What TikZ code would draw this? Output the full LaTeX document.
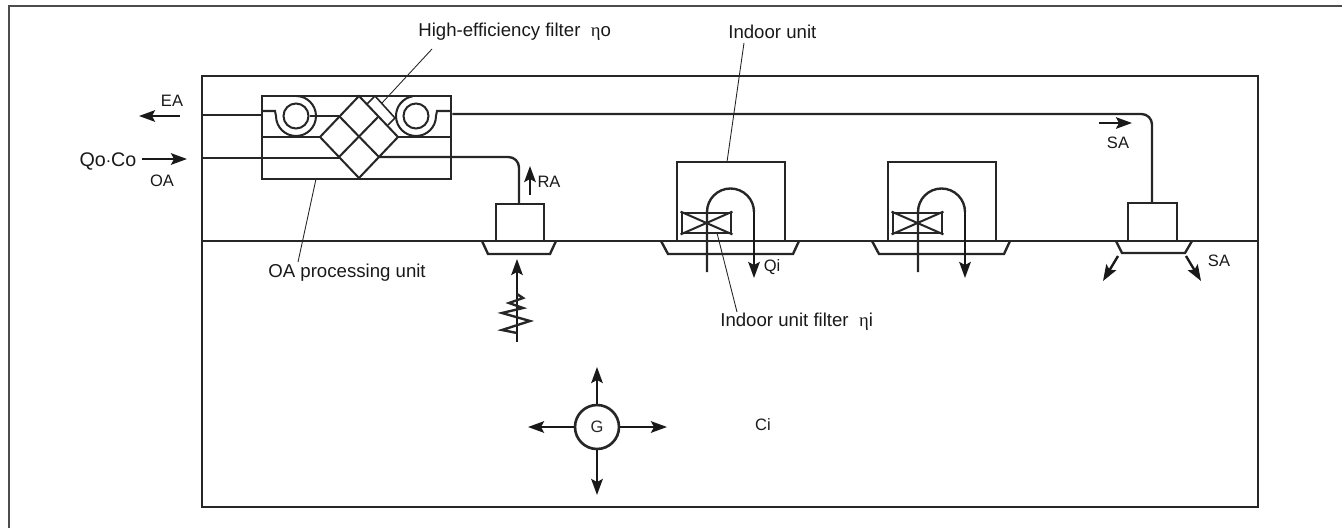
\documentclass[tikz,border=0pt]{standalone}
\usepackage{fontspec}
\setmainfont{Liberation Sans}
\newfontfamily\etafont{Liberation Serif}
\usetikzlibrary{arrows.meta, positioning, calc}

\begin{document}
\begin{tikzpicture}[
    x=0.02cm, y=-0.02cm, >={Stealth[length=3.2mm,width=2.3mm,inset=0.6mm]},
    heavy/.style={line width=1.15pt, black!85},
    duct/.style={line width=1.35pt, black!85},
    leader/.style={line width=0.5pt, black!85},
    flow/.style={line width=1.35pt, black!90, ->},
    lbl/.style={font=\fontsize{10.6}{12}\selectfont, inner sep=0pt, text=black!90},
    tag/.style={font=\fontsize{9.4}{11}\selectfont, inner sep=0pt, text=black!90}
  ]
  \useasboundingbox (0,0) rectangle (1342,528);
  \draw[line width=0.8pt, black!70] (1342,6) -- (9,6) -- (9,528);

  % room and ceiling
  \draw[duct] (202,76) rectangle (1258,507);
  \draw[duct] (202,241) -- (1258,241);

  % OA processing unit
  \node[draw, heavy, line width=1.5pt, minimum width=3.78cm, minimum height=1.66cm, inner sep=0pt]
    (oaunit) at (356.5,137.5) {};
  \draw[duct] (202,115) -- (oaunit.west |- 0,115);
  \draw[duct] (202,158) -- (340,158);
  \draw[heavy] (262,137) -- (320,137);
  \draw[heavy] (451,137) -- (398,137);

  % heat exchanger
  \draw[heavy] (359,96) -- (398,137) -- (359,178) -- (320,137) -- cycle;
  \draw[heavy] (339,116) -- (379,157);
  \draw[heavy] (379,116) -- (339,157);

  % filter strip
  \draw[heavy, line width=0.9pt] (367,104) -- (375,96) -- (395,118) -- (388,125);

  % fans
  \node[draw, circle, heavy, minimum size=0.5cm, inner sep=0pt] (fanl) at (296,116) {};
  \node[draw, circle, heavy, minimum size=0.5cm, inner sep=0pt] (fanr) at (416,116) {};
  \draw[heavy] (262,111) -- (275,111) -- (276,116)
    arc[start angle=180, end angle=-90, radius=20];
  \draw[heavy] (451,111) -- (437,111) -- (436,116)
    arc[start angle=0, end angle=260, radius=20];
  \draw[heavy] (fanl.east) -- (339,116);

  % supply duct
  \draw[duct, rounded corners=6pt] (oaunit.east |- 0,114) -- (1152,114) -- (1152,203);
  \draw[duct, rounded corners=6pt] (379,157) -- (519,157) -- (519,204);

  % RA unit
  \node[draw, duct, minimum width=0.96cm, minimum height=0.74cm, inner sep=0pt] (raunit) at (520,222.5) {};
  \draw[duct] (482,241) -- (488,254) -- (550,254) -- (556,241);

  % SA unit
  \node[draw, duct, minimum width=0.98cm, minimum height=0.76cm, inner sep=0pt] (saunit) at (1152.5,222) {};
  \draw[duct] (1116,241) -- (1122,253) -- (1185,253) -- (1192,241);

  % indoor units
  \foreach \ox/\nm in {0/a, 211/b} {
    \begin{scope}[shift={(\ox,0)}]
      \node[draw, duct, minimum width=2.16cm, minimum height=1.58cm, inner sep=0pt]
        (unit\nm) at (731,201.5) {};
      \draw[duct] (661,241) -- (668,254) -- (793,254) -- (799,241);
      \node[draw, heavy, line width=1.6pt, minimum width=0.98cm, minimum height=0.4cm, inner sep=0pt]
        (filt\nm) at (706.5,223) {};
      \draw[heavy] (filt\nm.north west) -- (filt\nm.south east);
      \draw[heavy] (filt\nm.south west) -- (filt\nm.north east);
      \draw[duct] (707,272) -- (707,212) arc[start angle=180, end angle=360, radius=23.5]
        coordinate (bend\nm);
      \draw[flow] (bend\nm) -- ++(0,66);
    \end{scope}
  }

  % flow arrows
  \coordinate (eaa) at (180,116); \coordinate (eab) at (139,116);
  \draw[flow] (eaa) -- (eab);
  \coordinate (oaa) at (142,159); \coordinate (oab) at (187,159);
  \draw[flow] (oaa) -- (oab);
  \coordinate (raa) at (530,195); \coordinate (rab) at (530,166);
  \draw[flow] (raa) -- (rab);
  \coordinate (saa) at (1099,123); \coordinate (sab) at (1132,123);
  \draw[flow] (saa) -- (sab);
  \coordinate (sla) at (1118,256); \coordinate (slb) at (1103,281);
  \draw[flow] (sla) -- (slb);
  \coordinate (sra) at (1186,256); \coordinate (srb) at (1201,281);
  \draw[flow] (sra) -- (srb);

  % return air with contaminant
  \coordinate (ret) at (517,342); \coordinate (rettip) at (517,259);
  \draw[flow] (ret) -- (rettip);
  \draw[duct] (517,294) -- (523,298) -- (509,303) -- (523,308) -- (502,313)
    -- (530,321) -- (502,330) -- (517,333);

  % generation
  \node[draw, circle, duct, line width=1.5pt, minimum size=0.88cm, inner sep=0pt,
        font=\fontsize{9.4}{11}\selectfont] (gen) at (597,427) {G};
  \coordinate (genn) at (597,367); \coordinate (gens) at (597,495);
  \coordinate (genw) at (528,427); \coordinate (gene) at (667,427);
  \draw[flow] (gen) -- (genn);
  \draw[flow] (gen) -- (gens);
  \draw[flow] (gen) -- (genw);
  \draw[flow] (gen) -- (gene);

  % labels
  \node[lbl, anchor=west] (hef) at (418,32) {High-efficiency filter\ \ {\etafont η}o};
  \node[lbl, anchor=west] (iul) at (728,32) {Indoor unit};
  \node[lbl, anchor=west] (oap) at (268,273) {OA processing unit};
  \node[lbl, anchor=west] (iuf) at (720,322) {Indoor unit filter\ \ {\etafont η}i};
  \node[tag] (ea) at (172,101) {EA};
  \node[tag, font=\fontsize{11.2}{13}\selectfont] (qc) at (108,161) {Qo$\cdot$Co};
  \node[tag] (oa) at (162,181) {OA};
  \node[tag] (ra) at (549,182) {RA};
  \node[tag] (qi) at (772,267) {Qi};
  \node[tag] (sau) at (1118,143) {SA};
  \node[tag] (sal) at (1219,261) {SA};
  \node[tag] (ci) at (763,425) {Ci};

  % leaders
  \coordinate (hefp) at (382,103); \coordinate (hefs) at (432,49);
  \draw[leader] (hefs) -- (hefp);
  \coordinate (iup) at (727,162); \coordinate (ius) at (744,43);
  \draw[leader] (ius) -- (iup);
  \coordinate (oapp) at (316,179); \coordinate (oaps) at (298,262);
  \draw[leader] (oaps) -- (oapp);
  \coordinate (iufp) at (717,233); \coordinate (iufs) at (737,312);
  \draw[leader] (iufs) -- (iufp);
\end{tikzpicture}
\end{document}
